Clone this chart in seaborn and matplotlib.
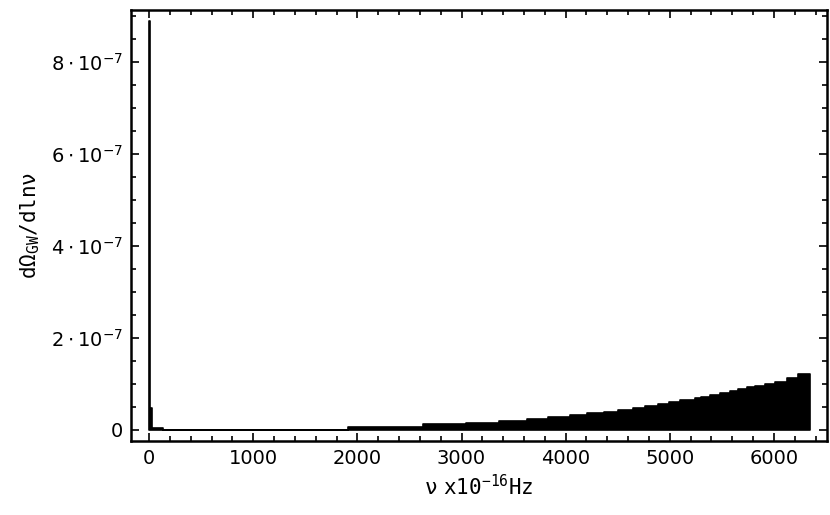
import numpy as np
import pandas as pd
import matplotlib
matplotlib.use("Agg")
import matplotlib.pyplot as plt
from matplotlib.ticker import MultipleLocator, FuncFormatter
import seaborn as sns

# bin edges of the spectrum (nu in units of 1e-16 Hz)
bin_edges = [0, 12, 30, 135, 1910, 2630, 3042, 3359, 3628, 3829, 4040, 4203,
             4367, 4501, 4645, 4760, 4885, 4990, 5096, 5240, 5298, 5384, 5480,
             5576, 5653, 5739, 5816, 5912, 6008, 6123, 6228, 6344]
# dOmega_GW / dln(nu) in each bin
omega_vals = [8.9e-7, 4.8e-8, 5e-9, 0.0, 0.65e-8, 1.3e-8, 1.5e-8, 1.96e-8,
              2.4e-8, 2.8e-8, 3.26e-8, 3.6e-8, 4.0e-8, 4.35e-8, 4.8e-8, 5.3e-8,
              5.65e-8, 6.1e-8, 6.5e-8, 6.9e-8, 7.25e-8, 7.6e-8, 8.1e-8, 8.5e-8,
              8.85e-8, 9.3e-8, 9.65e-8, 1.0e-7, 1.05e-7, 1.14e-7, 1.22e-7]

x_ticks = [0, 1000, 2000, 3000, 4000, 5000, 6000]
y_ticks = [0, 2e-7, 4e-7, 6e-7, 8e-7]

edges = np.array(bin_edges, dtype=float)
df = pd.DataFrame({
    "nu": (edges[:-1] + edges[1:]) / 2,
    "omega": omega_vals,
})

sns.set_style("ticks")

fig = plt.figure(figsize=(8.3, 5.15), dpi=100)
ax = fig.add_axes([0.158, 0.1437, 0.838, 0.8369])

sns.histplot(data=df, x="nu", weights="omega", bins=list(bin_edges),
             element="step", fill=True, color="black", alpha=1,
             linewidth=1.2, ax=ax)

ax.set_xlim(-173, 6507)
ax.set_ylim(-2.4e-8, 9.13e-7)

ax.set_xticks(x_ticks)
ax.set_yticks(y_ticks)
ax.xaxis.set_minor_locator(MultipleLocator(200))
ax.yaxis.set_minor_locator(MultipleLocator(0.5e-7))


def sci_fmt(v, pos):
    if abs(v) < 1e-12:
        return "0"
    m = v / 1e-7
    return r"$%d\cdot10^{-7}$" % round(m)


ax.yaxis.set_major_formatter(FuncFormatter(sci_fmt))

for s in ax.spines.values():
    s.set_linewidth(1.8)
    s.set_color("black")

ax.tick_params(which="both", direction="in", top=True, right=True,
               color="black", width=1.2, labelcolor="black")
ax.tick_params(which="major", length=6, labelsize=14, pad=6)
ax.tick_params(which="minor", length=3.5)

ax.set_xlabel(r"$\mathtt{\nu\ x10^{-16}Hz}$", fontsize=15, labelpad=4,
              color="black")
ax.set_ylabel(r"$\mathtt{d\Omega_{GW}/d}$" + r"$\mathtt{ln\nu}$", fontsize=15,
              labelpad=6, color="black")

fig.savefig("out.png", dpi=100)
